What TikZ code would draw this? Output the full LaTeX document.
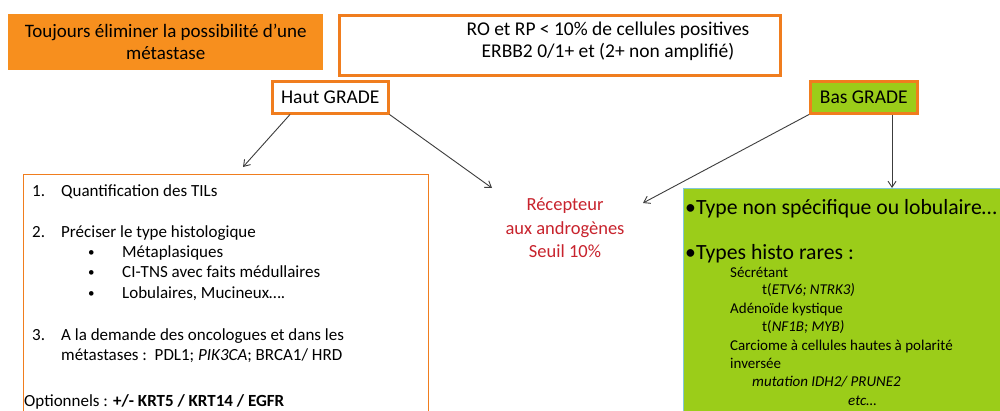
\documentclass[tikz,border=0pt]{standalone}
\usepackage{fontspec}
\setmainfont{Carlito}
\usetikzlibrary{arrows.meta}
\definecolor{orfill}{RGB}{247,143,30}
\definecolor{orline}{RGB}{240,125,30}
\definecolor{grfill}{RGB}{155,205,25}
\definecolor{grline}{RGB}{130,200,215}
\definecolor{redtxt}{RGB}{200,35,45}
\definecolor{arr}{RGB}{60,60,60}
\tikzset{
  conn/.style={draw=arr, line width=0.9pt, -{Straight Barb[length=6pt,width=8pt]}},
  gradebox/.style={draw=orline, line width=2.5pt, minimum height=32pt, inner sep=0pt, anchor=north west, font=\fontsize{19.5}{22}\selectfont},
  ltxt/.style={anchor=base west, inner sep=0pt, font=\fontsize{17}{20}\selectfont},
  gbig/.style={anchor=base west, inner sep=0pt, font=\fontsize{21.7}{24}\selectfont},
  gsmall/.style={anchor=base west, inner sep=0pt, font=\fontsize{15}{17}\selectfont},
}
\begin{document}
\begin{tikzpicture}[x=1pt,y=-1pt]
\useasboundingbox (0,0) rectangle (1000,410);
\fill[white] (0,0) rectangle (1000,410);
% top boxes
\node[fill=orfill, minimum width=315pt, minimum height=56pt, inner sep=0pt, anchor=north west,
      align=center, font=\fontsize{19}{22}\selectfont] (alert) at (8,14)
  {Toujours éliminer la possibilité d’une\\métastase};
\node[draw=orline, fill=white, line width=3pt, minimum width=441pt, minimum height=60pt, inner sep=0pt,
      anchor=north west] (crit) at (338,14) {};
\node[align=center, font=\fontsize{19.5}{22}\selectfont, inner sep=0pt] (crittxt) at (608,41)
  {RO et RP < 10\% de cellules positives\\ERBB2 0/1+ et (2+ non amplifié)};
% grade boxes
\node[gradebox, fill=white, minimum width=116pt] (haut) at (271,80) {Haut GRADE};
\node[gradebox, fill=grfill, minimum width=107pt] (bas) at (809,80) {Bas GRADE};
% left box
\node[draw=orline, line width=1pt, fill=white, minimum width=405pt, minimum height=260pt, inner sep=0pt,
      anchor=north west] (lbox) at (23,174) {};
% green box
\node[draw=grline, line width=1pt, fill=grfill, minimum width=330pt, minimum height=250pt, inner sep=0pt,
      anchor=north west] (gbox) at (683,188) {};
% red text
\node[text=redtxt, align=center, font=\fontsize{18.5}{23.5}\selectfont, inner sep=0pt] (ar) at (565,228)
  {Récepteur\\aux androgènes\\Seuil 10\%};
% left box texts
\node[ltxt] (n1) at (32,196) {1.};
\node[ltxt] (t1) at (61,196) {Quantification des TILs};
\node[ltxt] (n2) at (32,237) {2.};
\node[ltxt] (t2) at (61,237) {Préciser le type histologique};
\node[ltxt, font=\fontsize{13}{15}\selectfont] (b1) at (88,256) {•};
\node[ltxt] (t2a) at (122,257) {Métaplasiques};
\node[ltxt, font=\fontsize{13}{15}\selectfont] (b2) at (88,276) {•};
\node[ltxt] (t2b) at (122,277) {CI-TNS avec faits médullaires};
\node[ltxt, font=\fontsize{13}{15}\selectfont] (b3) at (88,297) {•};
\node[ltxt] (t2c) at (122,298) {Lobulaires, Mucineux….};
\node[ltxt] (n3) at (32,340) {3.};
\node[ltxt] (t3) at (61,340) {A la demande des oncologues et dans les};
\node[ltxt] (t3b) at (61,360) {métastases :\ \ PDL1; \textit{PIK3CA}; BRCA1/ HRD};
\node[ltxt] (opt) at (24,406) {Optionnels : \textbf{+/- KRT5 / KRT14 / EGFR}};
% green box texts
\node[gbig] (g1) at (685,214) {•Type non spécifique ou lobulaire…};
\node[gbig] (g2) at (685,259) {•Types histo rares :};
\node[gsmall] (s1) at (730,277) {Sécrétant};
\node[gsmall] (s1b) at (762,294) {t(\textit{ETV6; NTRK3)}};
\node[gsmall] (s2) at (730,313) {Adénoïde kystique};
\node[gsmall] (s2b) at (762,331) {t(\textit{NF1B; MYB)}};
\node[gsmall] (s3) at (730,350) {Carciome à cellules hautes à polarité};
\node[gsmall] (s3b) at (730,368) {inversée};
\node[gsmall] (s3c) at (752,386) {\textit{mutation IDH2/ PRUNE2}};
\node[gsmall] (s3d) at (848,405) {\textit{etc…}};
% connectors
\coordinate (e1) at (243,167);
\coordinate (e2) at (492,188);
\coordinate (e3) at (643,203);
\draw[conn] ([xshift=19pt]haut.south west) -- (e1);
\draw[conn] (haut.south east) -- (e2);
\draw[conn] (bas.south west) -- (e3);
\draw[conn] ([xshift=83pt]bas.south west) -- ([xshift=83pt]bas.south west |- gbox.north);
\end{tikzpicture}
\end{document}
